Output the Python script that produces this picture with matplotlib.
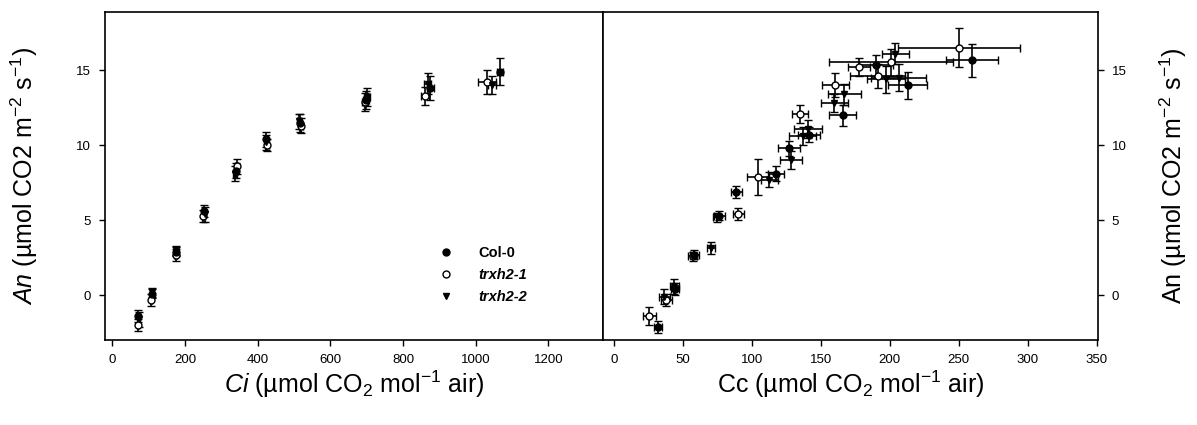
import matplotlib
matplotlib.use("Agg")
import matplotlib.pyplot as plt
from matplotlib.lines import Line2D

plt.rcParams['font.family'] = ['Liberation Sans', 'DejaVu Sans']
plt.rcParams['mathtext.fontset'] = 'custom'
plt.rcParams['mathtext.rm'] = 'Liberation Sans'
plt.rcParams['mathtext.it'] = 'Liberation Sans:italic'

# left panel: An vs Ci
ci_col = [72, 108, 175, 252, 340, 424, 516, 697, 875, 1066]
an_col = [-1.4, 0.1, 2.9, 5.6, 8.3, 10.4, 11.5, 13.0, 13.8, 14.9]
an_col_err = [0.4, 0.3, 0.3, 0.4, 0.5, 0.5, 0.6, 0.6, 0.8, 0.9]
ci_col_err = [3, 3, 4, 4, 5, 5, 6, 8, 10, 8]

ci_t1 = [70, 106, 174, 250, 342, 426, 520, 695, 860, 1030]
an_t1 = [-2.0, -0.3, 2.7, 5.3, 8.6, 10.0, 11.3, 12.9, 13.3, 14.2]
an_t1_err = [0.4, 0.4, 0.4, 0.4, 0.5, 0.4, 0.5, 0.6, 0.6, 0.8]
ci_t1_err = [3, 3, 4, 4, 5, 5, 6, 8, 10, 25]

ci_t2 = [74, 110, 176, 254, 338, 422, 514, 700, 868, 1045]
an_t2 = [-1.6, 0.2, 3.0, 5.4, 8.1, 10.2, 11.6, 13.2, 14.1, 14.0]
an_t2_err = [0.5, 0.3, 0.3, 0.5, 0.5, 0.5, 0.5, 0.6, 0.7, 0.6]
ci_t2_err = [3, 3, 4, 4, 5, 5, 6, 8, 10, 12]

# right panel: An vs Cc
cc_col = [31.7, 44, 58.3, 76.4, 88.5, 117.5, 127.2, 141.2, 165.8, 190, 212.9, 259.5]
an2_col = [-2.1, 0.4, 2.7, 5.3, 6.9, 8.1, 9.8, 10.7, 12.0, 15.33, 14.0, 15.67]
cc_col_err = [3, 3, 3, 4, 4, 6, 8, 8, 10, 12, 14, 19]
an2_col_err = [0.4, 0.4, 0.3, 0.3, 0.4, 0.5, 0.5, 0.5, 0.7, 0.7, 0.9, 1.1]

cc_t1 = [25.7, 38, 57, 90, 104.7, 134.9, 160.5, 177.4, 191.2, 200.8, 250.3]
an2_t1 = [-1.4, -0.3, 2.6, 5.4, 7.9, 12.07, 14.0, 15.2, 14.6, 15.55, 16.5]
cc_t1_err = [5, 4, 3, 4, 8, 6, 10, 8, 20, 45, 44]
an2_t1_err = [0.6, 0.4, 0.3, 0.4, 1.2, 0.6, 0.8, 0.6, 0.8, 0.9, 1.3]

cc_t2 = [36.6, 43.8, 70.4, 74.5, 112.7, 128.4, 136.8, 140.5, 159.8, 167, 197.2, 204, 206.4]
an2_t2 = [-0.1, 0.6, 3.16, 5.2, 7.7, 9.0, 10.6, 11.1, 12.8, 13.4, 14.4, 16.1, 14.5]
cc_t2_err = [4, 3, 3, 3, 6, 8, 10, 10, 10, 12, 14, 10, 20]
an2_t2_err = [0.5, 0.5, 0.4, 0.3, 0.5, 0.6, 0.6, 0.6, 0.6, 0.7, 0.9, 0.7, 0.9]

fig = plt.figure(figsize=(11.97, 4.25), dpi=100)
ax1 = fig.add_axes([105/1197, 85/425, 498/1197, 328/425])
ax2 = fig.add_axes([603/1197, 85/425, 495/1197, 328/425])

eb = dict(ls='none', ecolor='black', elinewidth=1.2, capsize=3, capthick=1.2, ms=5)

def draw(ax, xs, ys, xe, ye, marker, face):
    ax.errorbar(xs, ys, yerr=ye, xerr=xe, marker=marker, mfc=face, mec='black',
                mew=1.0, **eb)

draw(ax1, ci_t1, an_t1, ci_t1_err, an_t1_err, 'o', 'white')
draw(ax1, ci_t2, an_t2, ci_t2_err, an_t2_err, 'v', 'black')
draw(ax1, ci_col, an_col, ci_col_err, an_col_err, 'o', 'black')

draw(ax2, cc_t1, an2_t1, cc_t1_err, an2_t1_err, 'o', 'white')
draw(ax2, cc_t2, an2_t2, cc_t2_err, an2_t2_err, 'v', 'black')
draw(ax2, cc_col, an2_col, cc_col_err, an2_col_err, 'o', 'black')

for ax in (ax1, ax2):
    ax.set_ylim(-3, 18.9)
    ax.set_yticks([0, 5, 10, 15])
    ax.tick_params(direction='out', length=4, width=1, labelsize=9.5, pad=6)
    for s in ax.spines.values():
        s.set_linewidth(1.2)

ax1.set_xlim(-20, 1350)
ax1.set_xticks(range(0, 1201, 200))
ax2.set_xlim(-8, 351)
ax2.set_xticks(range(0, 351, 50))
ax2.yaxis.tick_right()
ax2.yaxis.set_label_position('right')

ax1.set_xlabel(r'$\mathit{Ci}$ (µmol CO$_2$ mol$^{-1}$ air)', fontsize=18, labelpad=2)
ax2.set_xlabel(r'Cc (µmol CO$_2$ mol$^{-1}$ air)', fontsize=18, labelpad=2)
ax1.set_ylabel(r'$\mathit{An}$ (µmol CO2 m$^{-2}$ s$^{-1}$)', fontsize=18, labelpad=26)
ax2.set_ylabel(r'An (µmol CO2 m$^{-2}$ s$^{-1}$)', fontsize=18, labelpad=22)

handles = [
    Line2D([], [], ls='none', marker='o', mfc='black', mec='black', ms=5),
    Line2D([], [], ls='none', marker='o', mfc='white', mec='black', ms=5),
    Line2D([], [], ls='none', marker='v', mfc='black', mec='black', ms=5),
]
leg = ax1.legend(handles, ['Col-0', 'trxh2-1', 'trxh2-2'], loc='lower left',
                 bbox_to_anchor=(0.63, 0.07), frameon=False,
                 prop={'weight': 'bold', 'size': 10.5}, handletextpad=1.2,
                 labelspacing=0.55)
for t in leg.get_texts()[1:]:
    t.set_style('italic')

fig.savefig('out.png', dpi=100)
